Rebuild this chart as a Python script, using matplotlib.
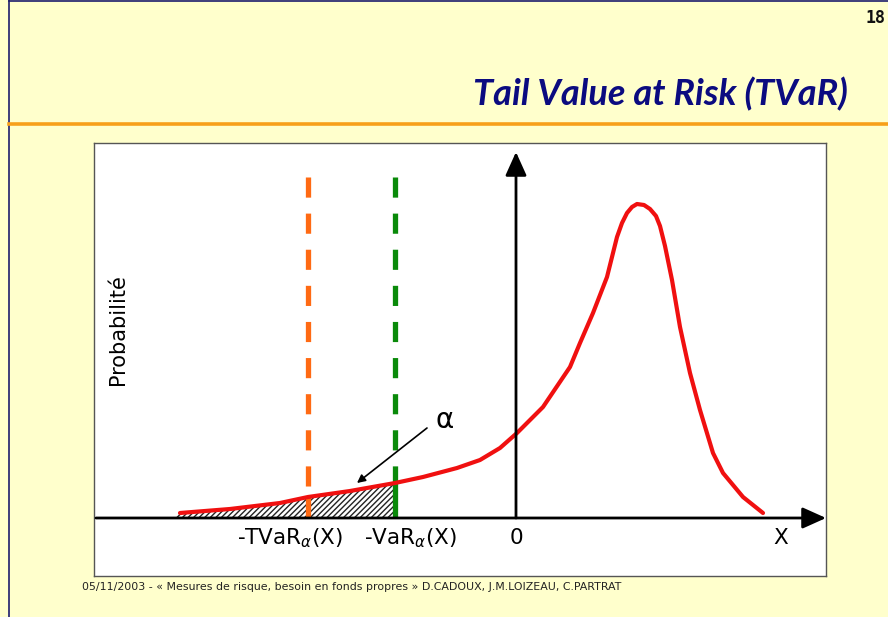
import numpy as np
import matplotlib
matplotlib.use("Agg")
import matplotlib.pyplot as plt
from matplotlib.lines import Line2D
from matplotlib.patches import ArrowStyle

plt.rcParams['lines.scale_dashes'] = False
plt.rcParams['hatch.linewidth'] = 1.0
plt.rcParams['mathtext.fontset'] = 'dejavusans'

# loss distribution sketch (origin at the crossing of the two axes)
curve_x = [-336, -286, -236, -208, -166, -121, -93, -59, -36, -16, 1, 27, 54, 64,
           77, 91, 101, 106, 111, 116, 121, 128, 134, 140, 144, 149, 156, 164,
           174, 184, 197, 207, 227, 247]
curve_y = [5, 9, 15, 21, 27, 35, 41, 50, 58, 70, 85, 111, 151, 175,
           205, 241, 281, 295, 305, 311, 314, 313, 309, 302, 292, 272, 238, 191,
           145, 108, 65, 45, 21, 5]

tvar_x = -208
var_x = -121
hatch_start = -344
yaxis_top = 366
xaxis_left, xaxis_right = -420, 310
dash_top = 341

tick_labels = [r'-TVaR$_{\alpha}$(X)', r'-VaR$_{\alpha}$(X)', '0', 'X']
tick_pos = [-226, -106, 0, 265]

bg = '#FFFFCC'
fig = plt.figure(figsize=(8.88, 6.17), dpi=100, facecolor=bg)
W, H = 888, 617

def fx(px):
    return px / W

def fy(py):
    return 1 - py / H

# slide frame and header rule
fig.add_artist(Line2D([fx(9), fx(9)], [0, 1], color='#1c1c6c', lw=1.2))
fig.add_artist(Line2D([fx(9), 1], [fy(1), fy(1)], color='#1c1c6c', lw=1.2))
fig.add_artist(Line2D([fx(9), 1], [fy(124), fy(124)], color='#F7A01A', lw=2.6))

fig.text(fx(865), fy(18), '18', fontsize=12, fontweight='bold',
         family='DejaVu Sans Mono', ha='left', va='center', color='#111111')
fig.text(fx(848), fy(94), 'Tail Value at Risk (TVaR)', fontsize=26,
         fontweight='bold', style='italic', family='Lato', color='#0B0B80',
         ha='right', va='center')
fig.text(fx(82), fy(587),
         '05/11/2003 - \u00ab Mesures de risque, besoin en fonds propres \u00bb '
         'D.CADOUX, J.M.LOIZEAU, C.PARTRAT',
         fontsize=7.9, color='#222222', ha='left', va='center')

ax = fig.add_axes([fx(94), fy(576), (826 - 94) / W, (576 - 143) / H])
ax.set_facecolor('white')
ax.set_xlim(-422, 310)
ax.set_ylim(-58, 375)
ax.set_xticks([])
ax.set_yticks([])
for s in ax.spines.values():
    s.set_color('#555555')
    s.set_linewidth(1.0)

# shaded tail below -VaR
hx = [hatch_start] + [x for x in curve_x if x < var_x] + [var_x]
hy = [0] + [y for x, y in zip(curve_x, curve_y) if x < var_x] + [np.interp(var_x, curve_x, curve_y)]
ax.fill_between(hx, 0, hy, facecolor='white', edgecolor='#222222', hatch='//////', lw=0)

# axes with arrow heads
head = ArrowStyle('-|>', head_length=0.8, head_width=0.36)
ax.annotate('', xy=(xaxis_right, 0), xytext=(xaxis_left, 0),
            arrowprops=dict(arrowstyle=head, lw=2, color='black', mutation_scale=18,
                            shrinkA=0, shrinkB=0), annotation_clip=False)
ax.annotate('', xy=(0, yaxis_top), xytext=(0, 0),
            arrowprops=dict(arrowstyle=head, lw=2, color='black', mutation_scale=18,
                            shrinkA=0, shrinkB=0), annotation_clip=False)

# -TVaR and -VaR markers: dashed above the curve, solid under it
for xv, col in [(tvar_x, '#FF6A13'), (var_x, '#0A8A0A')]:
    yc = np.interp(xv, curve_x, curve_y)
    ax.plot([xv, xv], [dash_top, yc], color=col, lw=3.8,
            linestyle=(0, (14.5, 11.5)), solid_capstyle='butt', dash_capstyle='butt')
    ax.plot([xv, xv], [0, yc], color=col, lw=3.8, solid_capstyle='butt')

ax.plot(curve_x, curve_y, color='#F01010', lw=3.0, solid_capstyle='round',
        solid_joinstyle='round')

# alpha pointer
ax.annotate('', xy=(-159, 35), xytext=(-89, 90),
            arrowprops=dict(arrowstyle='-|>', lw=1.2, color='black', mutation_scale=12,
                            shrinkA=0, shrinkB=0))
ax.text(-71, 98, '\u03b1', fontsize=20, ha='center', va='center')

for lab, xp in zip(tick_labels, tick_pos):
    ax.text(xp, -20, lab, fontsize=15.5, ha='center', va='center')

ax.text(-398, 188, 'Probabilit\u00e9', rotation=90, fontsize=15,
        ha='center', va='center')

fig.savefig('out.png', dpi=100, facecolor=bg)
